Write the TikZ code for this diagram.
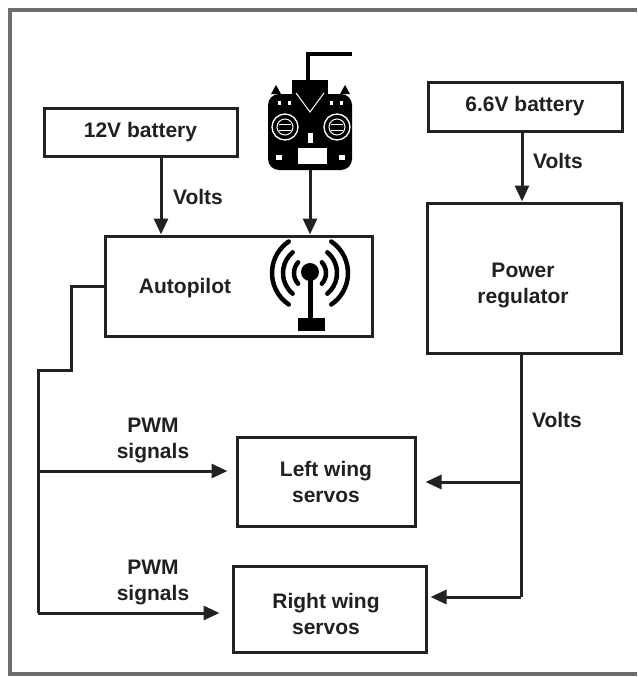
\documentclass[tikz,border=0pt]{standalone}
\usepackage{fontspec}
\setmainfont{Liberation Sans}
\usetikzlibrary{arrows.meta}
\definecolor{linec}{HTML}{222222}
\definecolor{txtc}{HTML}{231F20}
\definecolor{framec}{HTML}{6E6E6E}
\newcommand\lblfont{\fontsize{21}{26}\selectfont\bfseries}
\tikzset{
  box/.style={draw=linec, line width=3pt, inner sep=0pt, align=center, font=\lblfont, text=txtc},
  lbl/.style={font=\lblfont, text=txtc, align=center, inner sep=0pt},
  wire/.style={draw=linec, line width=3pt},
  arr/.style={draw=linec, line width=3pt, -{Triangle[length=16pt,width=14pt]}},
}
\begin{document}
\begin{tikzpicture}[x=1pt,y=-1pt]
\useasboundingbox (0,0) rectangle (637,677);
% outer frame
\draw[framec, line width=4.5pt] (637,10) -- (10,10) -- (10,674) -- (637,674);

% boxes
\node[box, minimum width=193pt, minimum height=48pt] (bat12) at (140.5,132) {12V battery};
\node[box, minimum width=267pt, minimum height=100pt] (auto) at (238.5,286) {};
\node[lbl] (autotxt) at (185,288) {Autopilot};
\node[box, minimum width=194pt, minimum height=49pt] (bat66) at (525,106.5) {6.6V battery};
\node[box, minimum width=194pt, minimum height=150pt] (reg) at (524,278) {};
\node[lbl] (regtxt) at (523,285.5) {Power\\regulator};
\node[box, minimum width=178pt, minimum height=89pt] (left) at (326,482) {Left wing\\servos};
\node[box, minimum width=193pt, minimum height=86pt] (right) at (329.5,609) {};
\node[lbl] (righttxt) at (326,614) {Right wing\\servos};

% remote control icon
\node[minimum width=84pt, minimum height=118pt, inner sep=0pt] (remote) at (310,111) {};
\begin{scope}
  \draw[black, line width=4.5pt] (308,104) -- (308,54) -- (352,54);
  \fill[black] (292,80) rectangle (328,100);
  \fill[black, rounded corners=11pt] (268,94) rectangle (352,170);
  \fill[black] (271,94) -- (276,85) -- (281,94) -- cycle;
  \fill[black] (340,94) -- (345,85) -- (350,94) -- cycle;
  \draw[white, line width=1pt] (296,93) -- (310,112) -- (324,93);
  \foreach \cx in {285,337}{
    \draw[white, line width=1.3pt] (\cx,127) circle[radius=13pt];
    \draw[white, line width=1pt] (\cx,127) circle[radius=8pt];
    \draw[white, line width=1pt] (\cx-6,124) -- (\cx+6,124);
    \draw[white, line width=1pt] (\cx-6,130) -- (\cx+6,130);
  }
  \foreach \dx in {279,289,331,341}{
    \fill[white] (\dx-1.5,101) rectangle (\dx+1.5,105);
  }
  \fill[white] (308,133) rectangle (313,143);
  \fill[white] (298,148) rectangle (327,164);
  \fill[white] (276,155) rectangle (282,160);
  \fill[white] (339,155) rectangle (345,160);
\end{scope}

% wireless icon inside autopilot
\begin{scope}
  \fill[black] (310,272) circle[radius=9pt];
  \draw[black, line width=5pt] (310,272) -- (310,322);
  \fill[black] (298,318) rectangle (325,331);
  \foreach \r/\a in {16/42,27/50,38/56}{
    \draw[black, line width=4.5pt, line cap=round] (310,273) ++(-\a:\r) arc[start angle=-\a, end angle=\a, radius=\r];
    \draw[black, line width=4.5pt, line cap=round] (310,273) ++(180-\a:\r) arc[start angle=180-\a, end angle=180+\a, radius=\r];
  }
\end{scope}

% coordinates for connector positions
\coordinate (v12) at (161,0);
\coordinate (v66) at (522,0);
\coordinate (vreg) at (521,0);
\coordinate (k1) at (71,0);
\coordinate (k2) at (38,370);
\coordinate (ylw) at (0,471);
\coordinate (yrw) at (0,613);
\coordinate (ylr) at (0,482);
\coordinate (yrr) at (0,597);

% arrows
\draw[arr] (bat12.south -| v12) -- (auto.north -| v12);
\draw[arr] (remote.south) -- (auto.north -| remote.south);
\draw[arr] (bat66.south -| v66) -- (reg.north -| v66);

% power regulator to servos
\draw[wire] (reg.south -| vreg) -- (vreg |- yrr);
\draw[arr, shorten >=3pt] (vreg |- yrr) -- (right.east |- yrr);
\draw[arr, shorten >=9pt] (vreg |- ylr) -- (left.east |- ylr);

% autopilot PWM wires
\draw[wire] (auto.west) -- (k1 |- auto.west) -- (k1 |- k2) -- (k2) -- (k2 |- yrw);
\draw[arr, shorten >=12pt] (k2 |- yrw) -- (right.west |- yrw);
\draw[arr, shorten >=8pt] (k2 |- ylw) -- (left.west |- ylw);

% labels
\node[lbl] (volts1) at (198,197) {Volts};
\node[lbl] (volts2) at (558,161) {Volts};
\node[lbl] (volts3) at (557,420) {Volts};
\node[lbl] (pwm1) at (153,440) {PWM\\signals};
\node[lbl] (pwm2) at (153,582) {PWM\\signals};
\end{tikzpicture}
\end{document}
